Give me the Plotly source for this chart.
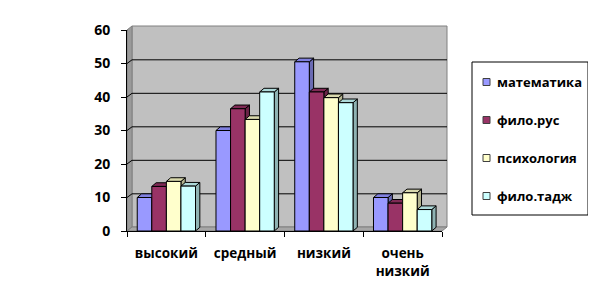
import plotly.graph_objects as go

categories = ["высокий", "средный", "низкий", "очень<br>низкий"]
series_names = ["математика", "фило.рус", "психология", "фило.тадж"]
matematika = [10, 30, 50.5, 10]
filo_rus = [13.3, 36.5, 41.5, 8.3]
psihologia = [14.8, 33.3, 39.8, 11.4]
filo_tadzh = [13.4, 41.5, 38.3, 6.4]
y_ticks = [0, 10, 20, 30, 40, 50, 60]

values = [matematika, filo_rus, psihologia, filo_tadzh]
front_colors = ["#9999FF", "#993366", "#FFFFCC", "#CCFFFF"]
side_colors = ["#6B6BB3", "#6B2447", "#B3B38F", "#8FB3B3"]
top_colors = ["#8080E0", "#7F2A55", "#D9D9AD", "#ADD9D9"]

W, H = 588, 280
L, R, T, B = 119, 154, 22, 57
PW, PH = W - L - R, H - T - B


def px(fx):
    return (fx - L) / PW


def py(fy):
    return (T + PH - fy) / PH


bargap = 0.26
n = len(values)
w = (1 - bargap) / n
dx = 0.055
dy = 1.1
wdx = 5 / PW
wdy = 4 / PH

fig = go.Figure()
for i, (name, vals) in enumerate(zip(series_names, values)):
    fig.add_trace(go.Bar(
        x=categories, y=vals, name=name, showlegend=False,
        marker=dict(color=front_colors[i], line=dict(color="#000000", width=1)),
    ))

shapes = []
annotations = []
# back wall, left wall, floor
shapes.append(dict(type="path", xref="paper", yref="paper", layer="below",
                   path=f"M {wdx},{wdy} L {wdx},{1+wdy} L {1+wdx},{1+wdy} L {1+wdx},{wdy} Z",
                   fillcolor="#C0C0C0", line=dict(color="#808080", width=1)))
shapes.append(dict(type="path", xref="paper", yref="paper", layer="below",
                   path=f"M 0,0 L 0,1 L {wdx},{1+wdy} L {wdx},{wdy} Z",
                   fillcolor="#9A9A9A", line=dict(color="#808080", width=1)))
shapes.append(dict(type="path", xref="paper", yref="paper", layer="below",
                   path=f"M 0,0 L 1,0 L {1+wdx},{wdy} L {wdx},{wdy} Z",
                   fillcolor="#A6A6A6", line=dict(color="#808080", width=1)))
for t in y_ticks[1:]:
    shapes.append(dict(type="line", xref="paper", yref="y", layer="below",
                       x0=wdx, x1=1 + wdx, y0=t + dy, y1=t + dy,
                       line=dict(color="#000000", width=1)))
    shapes.append(dict(type="line", xref="paper", yref="y", layer="below",
                       x0=0, x1=wdx, y0=t, y1=t + dy,
                       line=dict(color="#000000", width=1)))
# 3D faces of bars
for i, vals in enumerate(values):
    for c, v in enumerate(vals):
        xl = c - (1 - bargap) / 2 + i * w
        xr = xl + w
        side = f"M {xr},0 L {xr},{v} L {xr+dx},{v+dy} L {xr+dx},{dy} Z"
        top = f"M {xl},{v} L {xr},{v} L {xr+dx},{v+dy} L {xl+dx},{v+dy} Z"
        for path, col in ((side, side_colors[i]), (top, top_colors[i])):
            shapes.append(dict(type="path", path=path, xref="x", yref="y",
                               fillcolor=col, line=dict(color="#000000", width=1),
                               layer="between"))

# legend box (manual, matching the Excel layout)
shapes.append(dict(type="rect", xref="paper", yref="paper", layer="above",
                   x0=px(464), x1=px(580), y0=py(207), y1=py(54),
                   fillcolor="rgba(0,0,0,0)", line=dict(color="#000000", width=1)))
item_y = [74, 112, 150, 188]
for i, name in enumerate(series_names):
    fy = item_y[i]
    shapes.append(dict(type="rect", xref="paper", yref="paper", layer="above",
                       x0=px(475), x1=px(482), y0=py(fy + 3.5), y1=py(fy - 3.5),
                       fillcolor=front_colors[i], line=dict(color="#404040", width=1)))
    annotations.append(dict(xref="paper", yref="paper", x=px(487), y=py(fy),
                            xanchor="left", yanchor="middle", showarrow=False,
                            text=name,
                            font=dict(family="Open Sans", size=13, weight="bold",
                                      color="#000000")))

fig.update_layout(
    width=W, height=H,
    margin=dict(l=L, r=R, t=T, b=B, autoexpand=False),
    paper_bgcolor="#FFFFFF", plot_bgcolor="rgba(0,0,0,0)",
    barmode="group", bargap=bargap, bargroupgap=0,
    font=dict(family="Open Sans", size=13, color="#000000", weight="bold"),
    shapes=shapes, annotations=annotations,
    showlegend=False,
    xaxis=dict(showgrid=False, showline=True, linecolor="#000000",
               ticks="outside", ticklen=5, tickcolor="#000000",
               tickson="boundaries", range=[-0.5, 3.5],
               ticklabelstandoff=10, automargin=False,
               tickfont=dict(family="Open Sans", size=13.5, weight="bold")),
    yaxis=dict(range=[0, 60], tickvals=y_ticks, showgrid=False,
               showline=True, linecolor="#000000",
               ticks="outside", ticklen=5, tickcolor="#000000",
               ticklabelstandoff=8, zeroline=False, automargin=False,
               tickfont=dict(family="Open Sans", size=14, weight="bold")),
)

fig.write_html("out.html")
